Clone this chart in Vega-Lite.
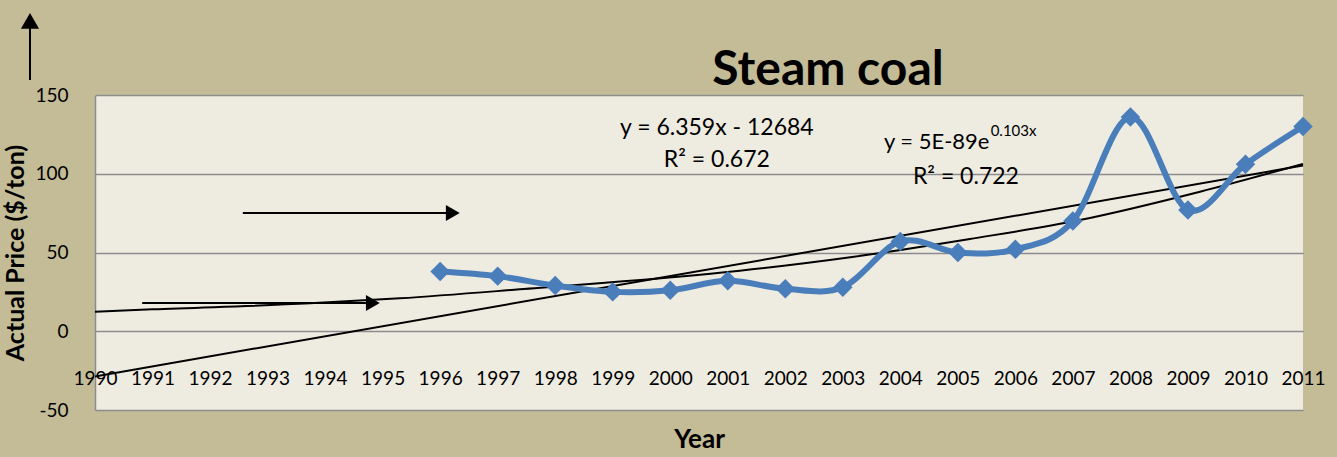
{
  "$schema": "https://vega.github.io/schema/vega-lite/v6.json",
  "width": 1208,
  "height": 315,
  "autosize": {"type": "none"},
  "padding": {"left": 95, "top": 95, "right": 34, "bottom": 47},
  "background": "#C4BC97",
  "view": {"fill": "#EEEBE0", "stroke": null},
  "config": {"font": "Lato", "text": {"font": "Lato", "color": "#000000"}},
  "title": {"text": "Steam coal", "font": "Lato", "fontSize": 48, "fontWeight": "bold", "color": "#000000", "anchor": "middle", "frame": "group", "dx": 129, "offset": -82},
  "datasets": {
    "price": [
      {"year": 1996, "price": 38},
      {"year": 1997, "price": 35},
      {"year": 1998, "price": 29},
      {"year": 1999, "price": 25},
      {"year": 2000, "price": 26},
      {"year": 2001, "price": 32},
      {"year": 2002, "price": 27},
      {"year": 2003, "price": 28},
      {"year": 2004, "price": 57},
      {"year": 2005, "price": 50},
      {"year": 2006, "price": 52},
      {"year": 2007, "price": 70},
      {"year": 2008, "price": 136},
      {"year": 2009, "price": 77},
      {"year": 2010, "price": 106},
      {"year": 2011, "price": 130}
    ],
    "expTrend": [
      {"year": 1990, "price": 12.4},
      {"year": 1991, "price": 13.9},
      {"year": 1993.74, "price": 17.7},
      {"year": 1995.3, "price": 20.9},
      {"year": 1997.38, "price": 26.6},
      {"year": 2001.21, "price": 38.4},
      {"year": 2003.13, "price": 47.0},
      {"year": 2005.21, "price": 58.6},
      {"year": 2007.12, "price": 70.6},
      {"year": 2009.21, "price": 88.6},
      {"year": 2011, "price": 106.2}
    ]
  },
  "layer": [
    {
      "data": {"name": "price"},
      "transform": [{"regression": "price", "on": "year", "method": "linear", "extent": [1990, 2011]}],
      "mark": {"type": "line", "color": "#000000", "strokeWidth": 2},
      "encoding": {
        "x": {"field": "year", "type": "quantitative",
          "scale": {"domain": [1990, 2011], "nice": false, "zero": false},
          "axis": {"values": [1990,1991,1992,1993,1994,1995,1996,1997,1998,1999,2000,2001,2002,2003,2004,2005,2006,2007,2008,2009,2010,2011],
            "format": "d", "grid": false, "domain": false, "ticks": false, "tickSize": 0,
            "labelPadding": -32, "labelBaseline": "middle", "labelFlush": false, "labelOverlap": false,
            "labelFont": "Lato", "labelFontSize": 19, "labelColor": "#000000",
            "title": "Year", "titleFont": "Lato", "titleFontSize": 26, "titleFontWeight": "bold", "titleColor": "#000000", "titlePadding": 16}},
        "y": {"field": "price", "type": "quantitative",
          "scale": {"domain": [-50, 150], "nice": false, "zero": false},
          "axis": {"values": [-50, 0, 50, 100, 150], "labelExpr": "'' + datum.value",
            "grid": true, "gridColor": "#8C8C8C", "gridWidth": 1.5, "gridOpacity": 1,
            "domain": true, "domainColor": "#8C8C8C", "domainWidth": 1.5,
            "ticks": false, "tickSize": 0, "labelPadding": 27,
            "labelFont": "Lato", "labelFontSize": 19, "labelColor": "#000000",
            "title": "Actual Price ($/ton)", "titleFont": "Lato", "titleFontSize": 25, "titleFontWeight": "bold", "titleColor": "#000000", "titlePadding": 6}}
      }
    },
    {
      "data": {"name": "expTrend"},
      "mark": {"type": "line", "color": "#000000", "strokeWidth": 2, "interpolate": "monotone"},
      "encoding": {
        "x": {"field": "year", "type": "quantitative"},
        "y": {"field": "price", "type": "quantitative"}
      }
    },
    {
      "data": {"name": "price"},
      "mark": {"type": "line", "color": "#4A7EBB", "strokeWidth": 6, "interpolate": "cardinal"},
      "encoding": {
        "x": {"field": "year", "type": "quantitative"},
        "y": {"field": "price", "type": "quantitative"}
      }
    },
    {
      "data": {"name": "price"},
      "mark": {"type": "point", "shape": "diamond", "filled": true, "color": "#4A7EBB", "size": 380, "opacity": 1},
      "encoding": {
        "x": {"field": "year", "type": "quantitative"},
        "y": {"field": "price", "type": "quantitative"}
      }
    },
    {
      "data": {"values": [{}]},
      "mark": {"type": "rule", "color": "#000000", "strokeWidth": 2, "clip": false},
      "encoding": {"x": {"datum": 1992.57, "type": "quantitative"}, "x2": {"datum": 1996.12}, "y": {"datum": 75.1, "type": "quantitative"}}
    },
    {
      "data": {"values": [{}]},
      "mark": {"type": "point", "shape": "triangle-right", "filled": true, "color": "#000000", "size": 256, "opacity": 1, "clip": false},
      "encoding": {"x": {"datum": 1996.22, "type": "quantitative"}, "y": {"datum": 75.1, "type": "quantitative"}}
    },
    {
      "data": {"values": [{}]},
      "mark": {"type": "rule", "color": "#000000", "strokeWidth": 2, "clip": false},
      "encoding": {"x": {"datum": 1990.82, "type": "quantitative"}, "x2": {"datum": 1994.71}, "y": {"datum": 17.9, "type": "quantitative"}}
    },
    {
      "data": {"values": [{}]},
      "mark": {"type": "point", "shape": "triangle-right", "filled": true, "color": "#000000", "size": 256, "opacity": 1, "clip": false},
      "encoding": {"x": {"datum": 1994.83, "type": "quantitative"}, "y": {"datum": 17.9, "type": "quantitative"}}
    },
    {
      "data": {"values": [{}]},
      "mark": {"type": "rule", "color": "#000000", "strokeWidth": 2, "clip": false},
      "encoding": {"x": {"datum": 1988.87, "type": "quantitative"}, "y": {"datum": 159.5, "type": "quantitative"}, "y2": {"datum": 193}}
    },
    {
      "data": {"values": [{}]},
      "mark": {"type": "point", "shape": "triangle-up", "filled": true, "color": "#000000", "size": 330, "opacity": 1, "clip": false},
      "encoding": {"x": {"datum": 1988.87, "type": "quantitative"}, "y": {"datum": 197, "type": "quantitative"}}
    },
    {
      "data": {"values": [{"label": "y = 6.359x - 12684"}]},
      "mark": {"type": "text", "fontSize": 23, "align": "center", "baseline": "middle", "color": "#000000"},
      "encoding": {"x": {"datum": 2000.81, "type": "quantitative"}, "y": {"datum": 129, "type": "quantitative"}, "text": {"field": "label"}}
    },
    {
      "data": {"values": [{"label": "R² = 0.672"}]},
      "mark": {"type": "text", "fontSize": 23, "align": "center", "baseline": "middle", "color": "#000000"},
      "encoding": {"x": {"datum": 2000.81, "type": "quantitative"}, "y": {"datum": 108.7, "type": "quantitative"}, "text": {"field": "label"}}
    },
    {
      "data": {"values": [{"label": "y = 5E-89e"}]},
      "mark": {"type": "text", "fontSize": 22, "align": "right", "baseline": "middle", "color": "#000000"},
      "encoding": {"x": {"datum": 2005.55, "type": "quantitative"}, "y": {"datum": 120.2, "type": "quantitative"}, "text": {"field": "label"}}
    },
    {
      "data": {"values": [{"label": "0.103x"}]},
      "mark": {"type": "text", "fontSize": 15, "align": "left", "baseline": "middle", "color": "#000000"},
      "encoding": {"x": {"datum": 2005.57, "type": "quantitative"}, "y": {"datum": 127.0, "type": "quantitative"}, "text": {"field": "label"}}
    },
    {
      "data": {"values": [{"label": "R² = 0.722"}]},
      "mark": {"type": "text", "fontSize": 23, "align": "center", "baseline": "middle", "color": "#000000"},
      "encoding": {"x": {"datum": 2005.14, "type": "quantitative"}, "y": {"datum": 98.1, "type": "quantitative"}, "text": {"field": "label"}}
    }
  ]
}
